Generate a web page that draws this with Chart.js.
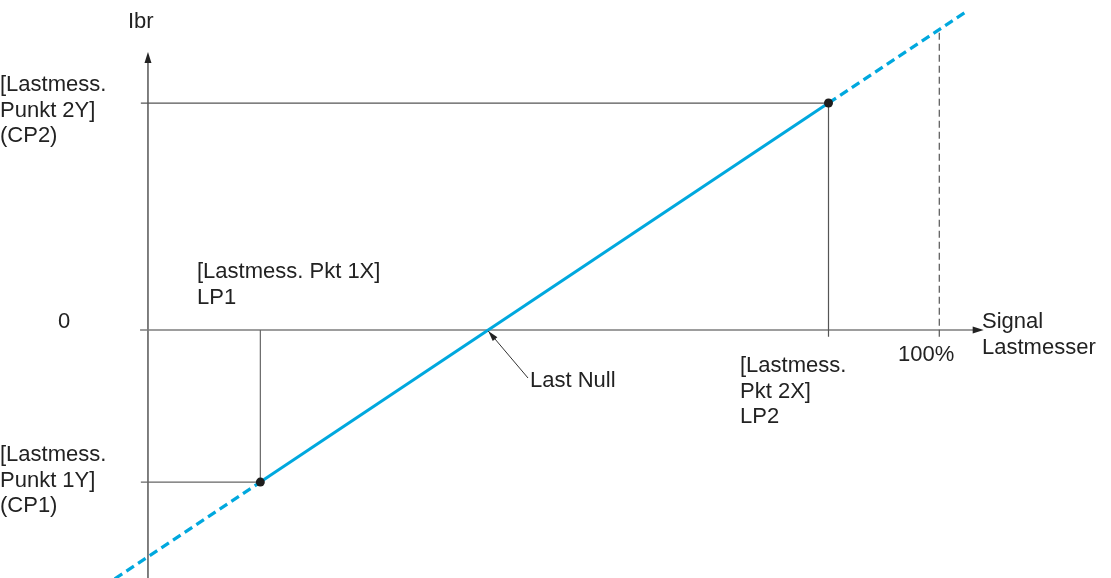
<!DOCTYPE html>
<html lang="de">
<head>
  <meta charset="UTF-8" />
  <title>Lastmesser Kennlinie</title>
  <script src="https://cdn.jsdelivr.net/npm/chart.js"></script>
  <style>
    body { margin: 0; background: #fff; }
    .container { width: 1111px; height: 578px; position: relative; }
  </style>
</head>
<body>
  <div class="container">
    <canvas id="chart"></canvas>
  </div>

  <script>
    // values (x = signal in %, y = Ibr in arbitrary units)
    const cp1 = { x: 14.2, y: -67 };   // LP1 / CP1
    const cp2 = { x: 86, y: 100 };     // LP2 / CP2
    const lineBelow = [{ x: -4.2, y: -109.6 }, cp1];
    const lineMain = [cp1, cp2];
    const lineAbove = [cp2, { x: 103.3, y: 140 }];
    const guideCp2 = [{ x: -0.9, y: 100 }, { x: 86, y: 100 }, { x: 86, y: -3 }];
    const guideCp1 = [{ x: -0.9, y: -67 }, { x: 14.2, y: -67 }, { x: 14.2, y: 0 }];
    const guide100 = [{ x: 100, y: -3 }, { x: 100, y: 132.5 }];
    const axisX = [{ x: -1, y: 0 }, { x: 104.6, y: 0 }];
    const axisY = [{ x: 0, y: -112 }, { x: 0, y: 119 }];
    const lastNull = { x: 43.0, y: 0 };

    const BLUE = '#00a8de';
    const FONT = '22px "Liberation Sans", Arial, sans-serif';

    const annotations = {
      id: 'annotations',
      afterDatasetsDraw(chart) {
        const { ctx, scales: { x, y } } = chart;
        ctx.save();

        // arrowheads on the axes
        ctx.fillStyle = '#222';
        const yTipX = x.getPixelForValue(0), yTipY = y.getPixelForValue(axisY[1].y);
        ctx.beginPath();
        ctx.moveTo(yTipX, yTipY - 8);
        ctx.lineTo(yTipX - 3.5, yTipY + 3);
        ctx.lineTo(yTipX + 3.5, yTipY + 3);
        ctx.closePath();
        ctx.fill();
        const xTipX = x.getPixelForValue(axisX[1].x), xTipY = y.getPixelForValue(0);
        ctx.beginPath();
        ctx.moveTo(xTipX + 8, xTipY);
        ctx.lineTo(xTipX - 3, xTipY - 3.5);
        ctx.lineTo(xTipX - 3, xTipY + 3.5);
        ctx.closePath();
        ctx.fill();

        // pointer to "Last Null"
        const nx = x.getPixelForValue(lastNull.x), ny = y.getPixelForValue(lastNull.y) + 1;
        const sx = 528, sy = 378;
        ctx.strokeStyle = '#333';
        ctx.lineWidth = 1;
        ctx.beginPath();
        ctx.moveTo(sx, sy);
        ctx.lineTo(nx, ny);
        ctx.stroke();
        const ang = Math.atan2(ny - sy, nx - sx);
        ctx.beginPath();
        ctx.moveTo(nx, ny);
        ctx.lineTo(nx - 11 * Math.cos(ang - 0.28), ny - 11 * Math.sin(ang - 0.28));
        ctx.lineTo(nx - 11 * Math.cos(ang + 0.28), ny - 11 * Math.sin(ang + 0.28));
        ctx.closePath();
        ctx.fill();

        // texts
        ctx.fillStyle = '#222';
        ctx.font = FONT;
        ctx.textBaseline = 'middle';
        ctx.textAlign = 'left';
        const lines = (arr, left, top, step) =>
          arr.forEach((t, i) => ctx.fillText(t, left, top + i * step));
        lines(['Ibr'], 128, 22, 25);
        lines(['[Lastmess.', 'Punkt 2Y]', '(CP2)'], 0, 85, 25.5);
        lines(['0'], 58, 322, 25);
        lines(['[Lastmess. Pkt 1X]', 'LP1'], 197, 272, 25.5);
        lines(['Last Null'], 530, 381, 25);
        lines(['Signal', 'Lastmesser'], 982, 322, 25.5);
        lines(['[Lastmess.', 'Pkt 2X]', 'LP2'], 740, 366, 25.5);
        lines(['100%'], 898, 355, 25);
        lines(['[Lastmess.', 'Punkt 1Y]', '(CP1)'], 0, 455, 25.5);
        ctx.restore();
      }
    };

    const seg = (data, color, width, dash) => ({
      data, showLine: true, borderColor: color, borderWidth: width,
      borderDash: dash || [], pointRadius: 0, fill: false, clip: false, tension: 0
    });

    // Chart.js paints the first dataset on top, so the dots come first
    new Chart(document.getElementById('chart'), {
      type: 'scatter',
      data: {
        datasets: [
          {
            data: [cp1, cp2], showLine: false, pointRadius: 4.5,
            pointBackgroundColor: '#1e1e1e', pointBorderWidth: 0, clip: false
          },
          seg(lineMain, BLUE, 3),
          seg(lineAbove, BLUE, 3.2, [9, 5]),
          seg(lineBelow, BLUE, 3.2, [9, 5]),
          seg(guide100, '#555', 1.2, [7, 4]),
          seg(guideCp1, '#666', 1.2),
          seg(guideCp2, '#555', 1.2),
          seg(axisX, '#7d7d7d', 1.6),
          seg(axisY, '#2a2a2a', 1.2)
        ]
      },
      options: {
        responsive: true,
        maintainAspectRatio: false,
        animation: false,
        layout: { padding: 0, autoPadding: false },
        plugins: { legend: { display: false }, tooltip: { enabled: false } },
        scales: {
          x: { type: 'linear', display: false, min: -18.7, max: 121.7 },
          y: { type: 'linear', display: false, min: -109.25, max: 145.4 }
        }
      },
      plugins: [annotations]
    });
  </script>
</body>
</html>
